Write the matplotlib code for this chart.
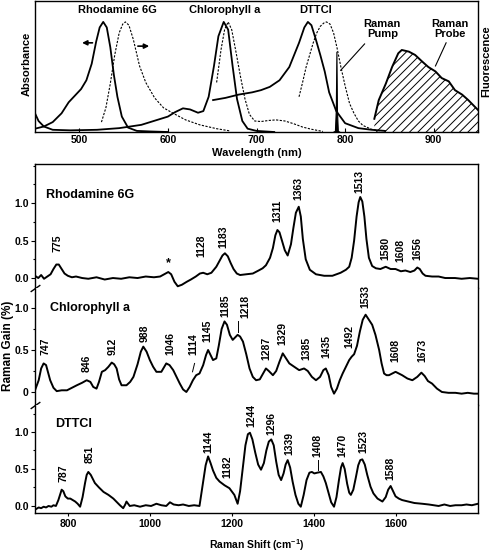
import matplotlib
matplotlib.use("Agg")
import matplotlib.pyplot as plt
from matplotlib.ticker import FixedLocator, MultipleLocator

plt.rcParams["font.family"] = ["Liberation Sans", "DejaVu Sans"]
plt.rcParams["font.weight"] = "bold"
plt.rcParams["axes.labelweight"] = "bold"
plt.rcParams["mathtext.fontset"] = "custom"
plt.rcParams["mathtext.rm"] = "Liberation Sans:bold"
plt.rcParams["mathtext.bf"] = "Liberation Sans:bold"
plt.rcParams["mathtext.default"] = "bf"
plt.rcParams["hatch.linewidth"] = 0.7

# ---- top panel: absorbance / fluorescence spectra (wavelength, nm) ----
rh_abs_wl = [450, 460, 470, 480, 488, 495, 502, 508, 514, 519, 523, 527, 531, 535, 539, 543, 548, 555, 565, 580, 600]
rh_abs = [0.03, 0.05, 0.09, 0.17, 0.27, 0.33, 0.39, 0.47, 0.62, 0.82, 0.95, 1.0, 0.95, 0.77, 0.52, 0.32, 0.14, 0.04, 0.01, 0.005, 0.0]

rh_fl_wl = [525, 530, 535, 540, 545, 549, 552, 556, 561, 568, 575, 585, 595, 606, 620, 636, 655, 670]
rh_fl = [0.09, 0.22, 0.44, 0.7, 0.9, 0.98, 1.0, 0.97, 0.84, 0.6, 0.45, 0.31, 0.22, 0.17, 0.11, 0.065, 0.03, 0.01]

chl_abs_wl = [450, 454, 460, 470, 490, 520, 545, 570, 588, 600, 608, 617, 625, 634, 640, 646, 652, 657, 663, 668, 673, 678, 684, 690, 700, 720]
chl_abs = [0.17, 0.10, 0.05, 0.02, 0.015, 0.02, 0.035, 0.065, 0.11, 0.14, 0.18, 0.215, 0.205, 0.175, 0.19, 0.32, 0.6, 0.87, 1.0, 0.93, 0.6, 0.3, 0.1, 0.03, 0.01, 0.0]

chl_fl_wl = [655, 660, 664, 668, 672, 677, 682, 687, 692, 698, 705, 714, 722, 732, 742, 752, 762, 775]
chl_fl = [0.45, 0.75, 0.93, 1.0, 0.93, 0.72, 0.5, 0.3, 0.16, 0.1, 0.095, 0.105, 0.11, 0.1, 0.075, 0.045, 0.025, 0.005]

dt_abs_wl = [651, 665, 680, 695, 705, 715, 726, 737, 748, 754, 758, 762, 767, 772, 777, 782, 790, 800, 815, 830, 845]
dt_abs = [0.29, 0.31, 0.34, 0.36, 0.38, 0.41, 0.47, 0.59, 0.81, 0.95, 1.0, 0.97, 0.84, 0.7, 0.55, 0.36, 0.19, 0.08, 0.035, 0.02, 0.01]

dt_fl_wl = [748, 752, 756, 760, 764, 768, 772, 776, 779, 783, 787, 791, 795, 800, 805, 810, 815, 820, 830, 840]
dt_fl = [0.32, 0.45, 0.59, 0.7, 0.81, 0.9, 0.96, 0.99, 1.0, 0.98, 0.9, 0.76, 0.6, 0.42, 0.26, 0.17, 0.1, 0.06, 0.024, 0.01]

pump_wl = [786, 788.5, 789.5, 790.2, 790.8, 791.8, 794]
pump = [0.0, 0.01, 0.2, 0.73, 0.2, 0.01, 0.0]

probe_wl = [833, 838, 846, 853, 860, 864, 872, 879, 887, 894, 902, 909, 917, 924, 932, 939, 950]
probe = [0.12, 0.29, 0.44, 0.59, 0.715, 0.745, 0.73, 0.70, 0.64, 0.59, 0.55, 0.49, 0.46, 0.38, 0.34, 0.29, 0.2]

# ---- bottom panel: Raman gain spectra (cm-1, %) ----
rh_shift = [720, 728, 735, 742, 750, 758, 765, 772, 778, 785,
            792, 800, 810, 820, 835, 850, 870, 890, 910, 930,
            950, 970, 990, 1010, 1025, 1035, 1045, 1052, 1060, 1068,
            1078, 1090, 1100, 1112, 1122, 1130, 1140, 1150, 1162, 1170,
            1177, 1183, 1190, 1197, 1204, 1212, 1220, 1235, 1251, 1265,
            1275, 1283, 1293, 1300, 1306, 1311, 1316, 1322, 1329, 1336,
            1344, 1350, 1356, 1363, 1368, 1373, 1380, 1390, 1405, 1425,
            1445, 1465, 1478, 1486, 1492, 1498, 1504, 1509, 1513, 1518,
            1523, 1528, 1534, 1542, 1551, 1562, 1575, 1587, 1599, 1612,
            1623, 1635, 1645, 1652, 1658, 1665, 1672, 1688, 1704, 1720,
            1744, 1760, 1780, 1800]
rh_gain = [0.03, 0.00, 0.04, -0.01, 0.02, 0.05, 0.12, 0.18, 0.18, 0.12,
           0.06, 0.03, 0.01, 0.02, 0.00, -0.01, 0.01, -0.02, 0.00, -0.01,
           0.01, 0.00, 0.02, 0.01, 0.02, 0.05, 0.08, 0.05, -0.05, -0.11,
           -0.09, -0.05, -0.02, 0.02, 0.06, 0.07, 0.05, 0.07, 0.15, 0.23,
           0.30, 0.33, 0.29, 0.20, 0.12, 0.06, 0.04, 0.05, 0.06, 0.10,
           0.13, 0.17, 0.27, 0.40, 0.57, 0.64, 0.61, 0.50, 0.37, 0.30,
           0.45, 0.67, 0.87, 0.95, 0.82, 0.52, 0.25, 0.11, 0.05, 0.03,
           0.03, 0.07, 0.11, 0.15, 0.27, 0.50, 0.82, 1.01, 1.08, 1.02,
           0.82, 0.52, 0.27, 0.16, 0.13, 0.12, 0.15, 0.12, 0.12, 0.09,
           0.10, 0.08, 0.10, 0.14, 0.12, 0.06, 0.03, 0.02, 0.02, 0.00,
           0.00, -0.01, 0.00, -0.01]

chl_shift = [720, 729, 735, 741, 747, 757, 765, 773, 785, 798,
             810, 822, 835, 846, 855, 862, 870, 876, 883, 891,
             899, 907, 913, 919, 925, 931, 943, 952, 960, 970,
             978, 984, 992, 1000, 1008, 1016, 1028, 1040, 1048, 1057,
             1065, 1073, 1081, 1089, 1097, 1105, 1113, 1121, 1130, 1137,
             1142, 1148, 1154, 1162, 1168, 1175, 1182, 1188, 1195, 1202,
             1208, 1214, 1220, 1227, 1235, 1243, 1251, 1259, 1268, 1276,
             1283, 1290, 1300, 1308, 1316, 1324, 1332, 1340, 1352, 1364,
             1376, 1385, 1395, 1405, 1415, 1423, 1429, 1436, 1442, 1449,
             1456, 1463, 1470, 1478, 1486, 1492, 1498, 1505, 1512, 1519,
             1526, 1534, 1542, 1550, 1559, 1565, 1571, 1577, 1583, 1591,
             1599, 1607, 1615, 1628, 1640, 1652, 1662, 1670, 1678, 1688,
             1700, 1712, 1728, 1745, 1760, 1775, 1790, 1800]
chl_gain = [0.02, 0.14, 0.28, 0.34, 0.32, 0.14, 0.05, 0.01, 0.02, 0.02,
            0.05, 0.08, 0.11, 0.14, 0.12, 0.06, 0.04, 0.12, 0.24, 0.26,
            0.30, 0.35, 0.33, 0.28, 0.15, 0.08, 0.08, 0.12, 0.18, 0.33,
            0.48, 0.54, 0.48, 0.38, 0.30, 0.24, 0.24, 0.34, 0.32, 0.26,
            0.18, 0.10, 0.03, 0.00, 0.06, 0.14, 0.20, 0.22, 0.32, 0.44,
            0.50, 0.44, 0.38, 0.40, 0.55, 0.75, 0.84, 0.80, 0.68, 0.62,
            0.65, 0.68, 0.66, 0.60, 0.45, 0.28, 0.18, 0.14, 0.15, 0.22,
            0.28, 0.25, 0.20, 0.25, 0.36, 0.46, 0.40, 0.34, 0.30, 0.26,
            0.28, 0.25, 0.18, 0.14, 0.18, 0.26, 0.28, 0.20, 0.06, -0.02,
            0.04, 0.14, 0.22, 0.30, 0.38, 0.42, 0.45, 0.55, 0.72, 0.86,
            0.92, 0.86, 0.80, 0.68, 0.50, 0.34, 0.22, 0.20, 0.20, 0.22,
            0.24, 0.22, 0.20, 0.16, 0.14, 0.18, 0.23, 0.19, 0.13, 0.10,
            0.04, 0.00, -0.01, -0.01, -0.02, -0.01, -0.02, -0.02]

dt_shift = [720, 729, 735, 741, 747, 753, 760, 765, 771, 777,
            781, 785, 789, 794, 800, 806, 812, 818, 824, 830,
            836, 842, 846, 850, 856, 866, 876, 887, 899, 911,
            920, 927, 935, 940, 943, 947, 951, 962, 976, 990,
            1003, 1016, 1028, 1040, 1049, 1058, 1070, 1081, 1095, 1108,
            1121, 1126, 1130, 1136, 1142, 1148, 1154, 1162, 1170, 1182,
            1194, 1206, 1214, 1220, 1227, 1233, 1239, 1244, 1250, 1257,
            1264, 1271, 1278, 1284, 1290, 1296, 1302, 1308, 1314, 1320,
            1326, 1331, 1336, 1342, 1348, 1355, 1362, 1368, 1375, 1382,
            1389, 1395, 1401, 1408, 1417, 1423, 1429, 1436, 1442, 1449,
            1455, 1461, 1466, 1470, 1475, 1481, 1486, 1490, 1496, 1502,
            1508, 1513, 1518, 1524, 1530, 1538, 1545, 1555, 1567, 1575,
            1581, 1587, 1593, 1599, 1607, 1615, 1630, 1645, 1664, 1680,
            1692, 1704, 1718, 1732, 1745, 1760, 1772, 1785, 1800]
dt_gain = [-0.05, -0.02, -0.03, -0.01, -0.02, 0.00, -0.01, 0.01, 0.00, 0.08,
           0.15, 0.22, 0.20, 0.13, 0.10, 0.10, 0.08, 0.06, 0.03, -0.01,
           0.12, 0.31, 0.42, 0.46, 0.42, 0.31, 0.25, 0.19, 0.15, 0.10,
           0.05, 0.01, -0.03, 0.02, 0.06, 0.03, 0.00, 0.01, -0.01, 0.01,
           0.00, 0.03, 0.01, 0.00, 0.05, 0.02, 0.01, 0.02, 0.00, 0.01,
           0.00, 0.18, 0.33, 0.55, 0.67, 0.58, 0.48, 0.38, 0.33, 0.28,
           0.24, 0.15, 0.03, 0.20, 0.53, 0.82, 0.97, 0.99, 0.90, 0.72,
           0.56, 0.49, 0.58, 0.75, 0.87, 0.90, 0.82, 0.60, 0.42, 0.35,
           0.44, 0.56, 0.62, 0.52, 0.33, 0.15, 0.03, -0.01, 0.15, 0.35,
           0.45, 0.46, 0.44, 0.45, 0.46, 0.40, 0.31, 0.17, 0.05, -0.01,
           0.12, 0.35, 0.52, 0.58, 0.50, 0.30, 0.18, 0.15, 0.22, 0.38,
           0.55, 0.62, 0.63, 0.56, 0.42, 0.26, 0.17, 0.10, 0.06, 0.12,
           0.22, 0.27, 0.20, 0.13, 0.10, 0.08, 0.06, 0.04, 0.03, 0.02,
           0.01, 0.00, 0.02, 0.00, 0.01, 0.01, 0.02, 0.01, 0.03]

# peak labels: text, x position, bottom of label
rh_labels = ["775", "1128", "1183", "1311", "1363", "1513", "1580", "1608", "1656"]
rh_label_x = [774, 1126, 1180, 1312, 1363, 1512, 1575, 1610, 1652]
rh_label_y = [0.35, 0.28, 0.40, 0.75, 1.04, 1.13, 0.24, 0.21, 0.24]

chl_labels = ["747", "846", "912", "988", "1046", "1114", "1145", "1185", "1218",
              "1287", "1329", "1385", "1435", "1492", "1533", "1608", "1673"]
chl_label_x = [745, 846, 910, 988, 1049, 1107, 1141, 1185, 1232,
               1283, 1324, 1381, 1430, 1486, 1526, 1599, 1664]
chl_label_y = [0.44, 0.24, 0.44, 0.60, 0.44, 0.44, 0.60, 0.89, 0.88,
               0.38, 0.56, 0.38, 0.40, 0.52, 1.00, 0.36, 0.36]

dt_labels = ["787", "851", "1144", "1182", "1244", "1296", "1339", "1408", "1470", "1523", "1588"]
dt_label_x = [789, 853, 1142, 1189, 1247, 1296, 1340, 1409, 1470, 1520, 1587]
dt_label_y = [0.32, 0.58, 0.72, 0.38, 1.07, 0.96, 0.69, 0.66, 0.66, 0.72, 0.35]

W, H = 492, 557
fig = plt.figure(figsize=(W / 100, H / 100), dpi=100)

# ---------------- top panel ----------------
ax0 = fig.add_axes([35 / W, (H - 132) / H, 443 / W, 131 / H])
solid = dict(color="k", lw=1.3)
dotted = dict(color="k", lw=0.8, ls=(0, (2, 1.3)))
ax0.plot(rh_abs_wl, rh_abs, **solid)
ax0.plot(chl_abs_wl, chl_abs, **solid)
ax0.plot(dt_abs_wl, dt_abs, **solid)
ax0.plot(rh_fl_wl, rh_fl, **dotted)
ax0.plot(chl_fl_wl, chl_fl, **dotted)
ax0.plot(dt_fl_wl, dt_fl, **dotted)
ax0.fill_between(pump_wl, pump, 0, color="k", lw=0.8)
ax0.fill_between(probe_wl, probe, 0, facecolor="none", edgecolor="k", hatch="////", lw=0)
ax0.plot(probe_wl, probe, color="k", lw=1.4)

ax0.annotate("", xy=(500, 0.81), xytext=(518, 0.81),
             arrowprops=dict(arrowstyle="-|>", color="k", lw=1.2, mutation_scale=7))
ax0.annotate("", xy=(582, 0.78), xytext=(563, 0.78),
             arrowprops=dict(arrowstyle="-|>", color="k", lw=1.2, mutation_scale=7))
ax0.plot([822, 795], [0.8, 0.56], color="k", lw=0.8)
ax0.plot([914, 902], [0.81, 0.60], color="k", lw=0.8)

txt = dict(fontsize=8, fontweight="bold", ha="center", va="center")
ax0.text(543, 1.11, "Rhodamine 6G", **txt)
ax0.text(664, 1.11, "Chlorophyll a", **txt)
ax0.text(767, 1.11, "DTTCI", **txt)
ax0.text(842, 0.94, "Raman\nPump", linespacing=1.0, **txt)
ax0.text(918, 0.94, "Raman\nProbe", linespacing=1.0, **txt)

ax0.set_xlim(450, 950)
ax0.set_ylim(0, 1.19)
ax0.set_yticks([])
ax0.set_xticks([500, 600, 700, 800, 900])
ax0.tick_params(axis="x", direction="in", length=3, width=0.8, labelsize=7.5, pad=2)
for s in ax0.spines.values():
    s.set_linewidth(1.0)

fig.text(256.5 / W, 1 - 153 / H, "Wavelength (nm)", ha="center", va="center", fontsize=8)
fig.text(27 / W, 1 - 64 / H, "Absorbance", rotation=90, ha="center", va="center", fontsize=8)
fig.text(486 / W, 1 - 61 / H, "Fluorescence", rotation=90, ha="center", va="center", fontsize=8)


# ---------------- bottom panel ----------------
def raman_axes(top_px, bot_px, ylim, ticklabels):
    ax = fig.add_axes([35 / W, (H - bot_px) / H, 443 / W, (bot_px - top_px) / H])
    ax.set_xlim(720, 1800)
    ax.set_ylim(*ylim)
    ax.yaxis.set_major_locator(FixedLocator([0, 0.5, 1.0]))
    ax.set_yticklabels(ticklabels)
    ax.yaxis.set_minor_locator(MultipleLocator(0.25))
    ax.tick_params(axis="y", which="major", direction="out", length=3, width=0.8,
                   labelsize=7.5, pad=1.5)
    ax.tick_params(axis="y", which="minor", direction="out", length=1.8, width=0.8)
    for s in ax.spines.values():
        s.set_linewidth(1.0)
    return ax


def add_labels(ax, labels, xs, ys):
    for s, x, y in zip(labels, xs, ys):
        ax.text(x, y, s, rotation=90, ha="center", va="bottom", fontsize=7.5, fontweight="bold")


def add_break(ax):
    ax.plot([0], [0], transform=ax.transAxes, marker=[(-1, -0.7), (1, 0.7)],
            markersize=7, mec="k", mew=1.0, clip_on=False)


ax1 = raman_axes(164, 288, (-0.133, 1.52), ["0.0", "0.5", "1.0"])
ax2 = raman_axes(288, 405, (-0.155, 1.238), ["0", "0.5", "1.0"])
ax3 = raman_axes(405, 513, (-0.095, 1.365), ["0.0", "0.5", "1.0"])

line = dict(color="k", lw=1.4)
ax1.plot(rh_shift, rh_gain, **line)
ax2.plot(chl_shift, chl_gain, **line)
ax3.plot(dt_shift, dt_gain, **line)

add_labels(ax1, rh_labels, rh_label_x, rh_label_y)
add_labels(ax2, chl_labels, chl_label_x, chl_label_y)
add_labels(ax3, dt_labels, dt_label_x, dt_label_y)
ax1.text(1046, 0.2, "*", ha="center", va="center", fontsize=9, fontweight="bold")
ax2.plot([1109, 1104], [0.34, 0.24], color="k", lw=0.7)
ax2.plot([1214, 1214], [0.84, 0.72], color="k", lw=0.7)
ax3.plot([1409, 1409], [0.62, 0.49], color="k", lw=0.7)

name = dict(fontsize=9, fontweight="bold", ha="left", va="center")
ax1.text(747, 1.11, "Rhodamine 6G", **name)
ax2.text(757, 1.0, "Chlorophyll a", **name)
ax3.text(769, 1.11, "DTTCI", **name)

ax1.spines["bottom"].set_visible(False)
ax2.spines["top"].set_visible(False)
ax2.spines["bottom"].set_visible(False)
ax3.spines["top"].set_visible(False)
for ax in (ax1, ax2):
    ax.tick_params(axis="x", bottom=False, labelbottom=False)
ax3.set_xticks([800, 1000, 1200, 1400, 1600])
ax3.tick_params(axis="x", direction="out", length=2.5, width=0.8, labelsize=7.5, pad=2)
add_break(ax1)
add_break(ax2)

fig.text(256.5 / W, 1 - 545 / H, r"Raman Shift (cm$^{-1}$)", ha="center", va="center", fontsize=7.5)
fig.text(8 / W, 1 - 346 / H, "Raman Gain (%)", rotation=90, ha="center", va="center", fontsize=8.5)

fig.savefig("out.png", dpi=100)
